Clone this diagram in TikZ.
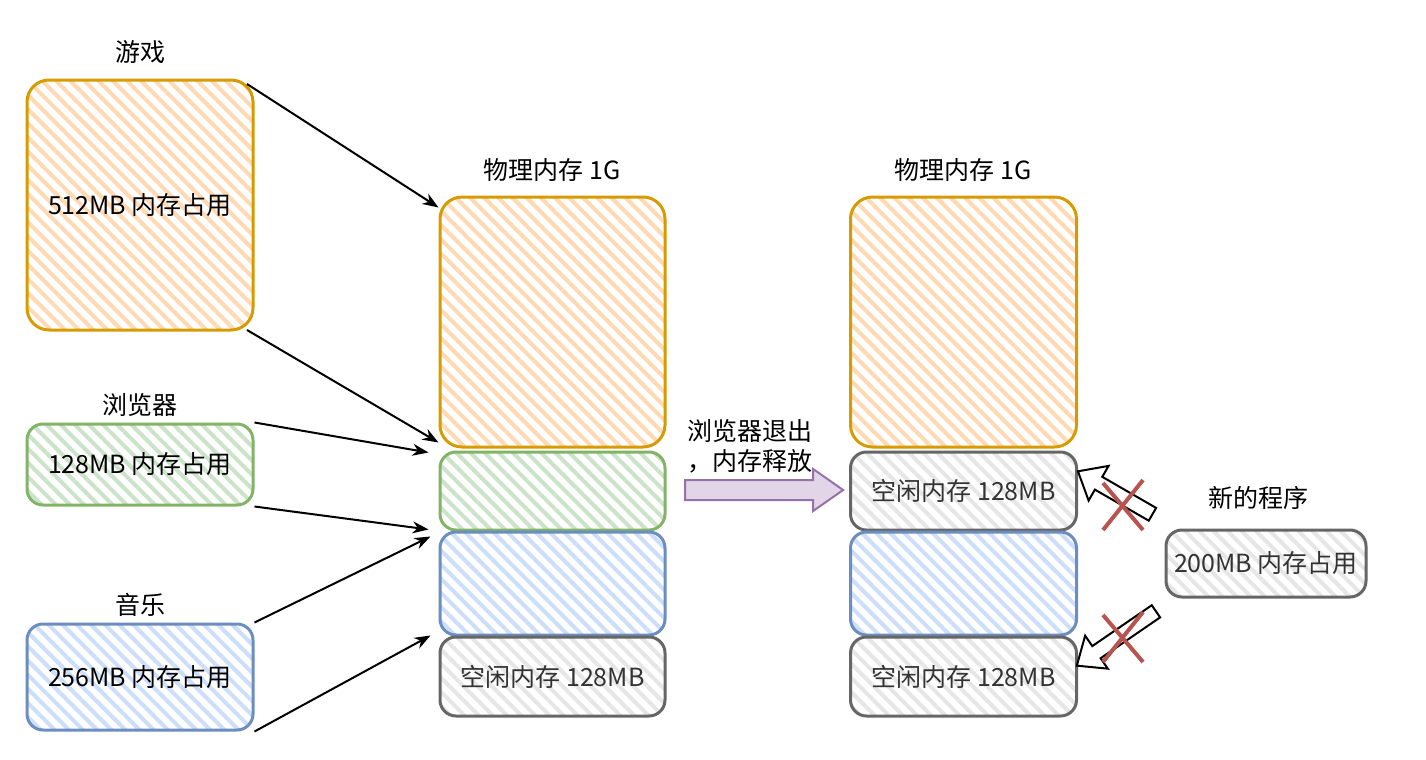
\documentclass[tikz,border=0pt]{standalone}
\usepackage{fontspec}
\setmainfont{Noto Sans CJK SC}
\usepackage{xcolor}
\usetikzlibrary{arrows.meta,patterns.meta,shapes.arrows}

\definecolor{orangeline}{HTML}{D79B00}
\definecolor{orangefill}{HTML}{FFD9B3}
\definecolor{greenline}{HTML}{82B366}
\definecolor{greenfill}{HTML}{CBE3C8}
\definecolor{blueline}{HTML}{6C8EBF}
\definecolor{bluefill}{HTML}{CCDEFA}
\definecolor{grayline}{HTML}{666666}
\definecolor{grayfill}{HTML}{E6E6E6}
\definecolor{purpleline}{HTML}{9673A6}
\definecolor{purplefill}{HTML}{E1D5E7}
\definecolor{redx}{HTML}{B85450}

\begin{document}
\begin{tikzpicture}[x=0.5pt,y=-0.5pt,
    font=\fontsize{12.5}{15}\selectfont,
    hatch/.style={rounded corners=8pt, line width=1.5pt, inner sep=0pt,
        pattern={Lines[angle=-45,distance=5pt,line width=2pt]}},
    game/.style={hatch, draw=orangeline, pattern color=orangefill, rounded corners=11pt},
    web/.style={hatch, draw=greenline, pattern color=greenfill},
    music/.style={hatch, draw=blueline, pattern color=bluefill},
    free/.style={hatch, draw=grayline, pattern color=grayfill, text=black!80},
    link/.style={-{Stealth[length=8pt,width=6pt]}, line width=1pt},
    blocked/.style={single arrow, draw=black, fill=white, line width=1pt,
        minimum width=20pt, single arrow head extend=6pt, inner sep=3pt,
        single arrow tip angle=80},
    cross/.style={draw=redx, line width=2pt}]
    \useasboundingbox (0,0) rectangle (1426,760);

    % programs
    \node (gameTitle) at (140,52) {游戏};
    \node[game, minimum width=113pt, minimum height=125pt] (game) at (140,205) {512MB 内存占用};
    \node (webTitle) at (140,405) {浏览器};
    \node[web, minimum width=113pt, minimum height=40.5pt] (web) at (140,464.5) {128MB 内存占用};
    \node (musicTitle) at (140,605) {音乐};
    \node[music, minimum width=113pt, minimum height=53pt] (music) at (140,677) {256MB 内存占用};

    % physical memory, before
    \node (memTitle) at (552,170) {物理内存 1G};
    \node[game, minimum width=112.5pt, minimum height=125pt] (memA) at (552.5,322) {};
    \node[web, minimum width=112.5pt, minimum height=39pt] (memB) at (552.5,491) {};
    \node[music, minimum width=112.5pt, minimum height=51.5pt] (memC) at (552.5,583.5) {};
    \node[free, minimum width=112.5pt, minimum height=39.5pt] (memD) at (552.5,676.5) {空闲内存 128MB};

    \draw[link] ([xshift=-4pt,yshift=-3pt]game.north east) -- ([yshift=-6pt]memA.north west);
    \draw[link] ([xshift=-4pt,yshift=1pt]game.south east) -- ([yshift=3pt]memA.south west);
    \draw[link] (web.north east) -- ([xshift=-5pt,yshift=-1pt]memB.north west);
    \draw[link] (web.south east) -- ([xshift=-5pt,yshift=1pt]memB.south west);
    \draw[link] (music.north east) -- ([xshift=-4pt,yshift=-3pt]memC.north west);
    \draw[link] (music.south east) -- ([xshift=-4pt]memD.north west);

    % browser quits
    \node[single arrow, draw=purpleline, fill=purplefill, line width=1pt,
        minimum height=79pt, minimum width=21pt, inner sep=4.5pt,
        single arrow head extend=5.5pt, single arrow tip angle=70] (release) at (757,490) {};
    \node[align=center] (releaseText) at (750,446) {浏览器退出\\，内存释放};

    % physical memory, after
    \node (memTitleB) at (963,170) {物理内存 1G};
    \node[game, minimum width=113pt, minimum height=125pt] (afterA) at (963.5,322) {};
    \node[free, minimum width=113pt, minimum height=39pt] (afterB) at (963.5,491) {空闲内存 128MB};
    \node[music, minimum width=113pt, minimum height=51.5pt] (afterC) at (963.5,583.5) {};
    \node[free, minimum width=113pt, minimum height=39.5pt] (afterD) at (963.5,676.5) {空闲内存 128MB};

    % new program does not fit
    \node (newTitle) at (1258,498) {新的程序};
    \node[free, minimum width=100pt, minimum height=33.5pt] (newProg) at (1266,563.5) {200MB 内存占用};

    \node[blocked, minimum height=43pt, rotate=150] (tryB) at (1119,495) {};
    \node[blocked, minimum height=48pt, rotate=214.5] (tryD) at (1120,636) {};
    \draw[cross] (1103,483) -- (1143,530) (1143,480) -- (1103,530);
    \draw[cross] (1103,615) -- (1143,662) (1143,612) -- (1103,662);
\end{tikzpicture}
\end{document}
